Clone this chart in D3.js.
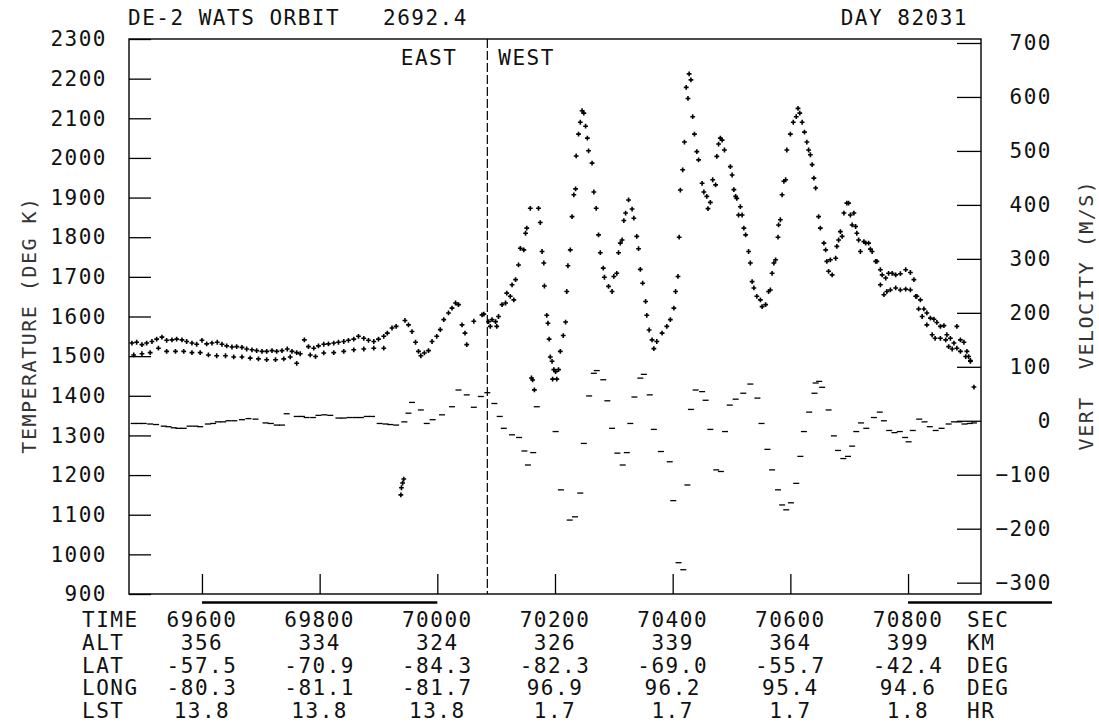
<!DOCTYPE html>
<html>
<head>
<meta charset="utf-8">
<script src="https://cdn.jsdelivr.net/npm/d3@7"></script>
<style>
body { margin: 0; background: #fff; }
svg text { font-family: "DejaVu Sans Mono", monospace; font-size: 21px; letter-spacing: 1.5px; fill: #111; }
</style>
</head>
<body>
<svg width="1099" height="727"></svg>
<script>
// temperature, main row (deg K)
var tempTime = [69481, 69489, 69498, 69506, 69515, 69523, 69532, 69540, 69549, 69557, 69566, 69574, 69583, 69591, 69600, 69608, 69617, 69626, 69634, 69642,
  69651, 69659, 69668, 69676, 69685, 69693, 69702, 69710, 69719, 69727, 69736, 69745, 69753, 69761, 69767, 69774, 69781, 69790, 69798, 69807,
  69815, 69824, 69832, 69841, 69849, 69858, 69866, 69875, 69883, 69892, 69900, 69909, 69915, 69923, 69930, 69945, 69951, 69957, 69963, 69968,
  69972, 69978, 69985, 69991, 69999, 70005, 70011, 70019, 70025, 70031, 70036, 70042, 70047, 70050, 70062, 70076, 70079, 70087, 70090, 70093,
  70099, 70101, 70104, 70110, 70116, 70118, 70124, 70127, 70130, 70133, 70138, 70141, 70147, 70150, 70152, 70158, 70160, 70162, 70165, 70172,
  70175, 70178, 70181, 70182, 70186, 70188, 70190, 70192, 70195, 70196, 70198, 70201, 70203, 70206, 70209, 70214, 70218, 70220, 70222, 70226,
  70229, 70232, 70235, 70236, 70240, 70243, 70246, 70249, 70252, 70255, 70257, 70263, 70266, 70270, 70274, 70277, 70282, 70284, 70291, 70297,
  70300, 70305, 70308, 70311, 70314, 70317, 70320, 70325, 70331, 70334, 70339, 70342, 70345, 70349, 70354, 70356, 70360, 70365, 70368, 70373,
  70382, 70390, 70396, 70402, 70405, 70409, 70411, 70413, 70417, 70420, 70423, 70426, 70428, 70431, 70434, 70437, 70441, 70444, 70450, 70453,
  70458, 70460, 70464, 70468, 70473, 70475, 70478, 70481, 70484, 70488, 70498, 70501, 70504, 70507, 70509, 70512, 70515, 70518, 70521, 70524,
  70529, 70532, 70535, 70538, 70543, 70549, 70552, 70558, 70563, 70566, 70569, 70572, 70575, 70579, 70580, 70583, 70586, 70589, 70592, 70594,
  70600, 70605, 70610, 70613, 70616, 70620, 70624, 70628, 70631, 70634, 70637, 70640, 70643, 70648, 70651, 70657, 70660, 70662, 70665, 70668,
  70671, 70677, 70679, 70682, 70685, 70688, 70691, 70696, 70699, 70702, 70705, 70708, 70711, 70713, 70716, 70719, 70725, 70728, 70733, 70736,
  70739, 70745, 70747, 70753, 70756, 70762, 70767, 70773, 70779, 70787, 70796, 70804, 70810, 70815, 70821, 70827, 70832, 70838, 70844, 70849,
  70855, 70861, 70866, 70872, 70878, 70883, 70889, 70895, 70900, 70903, 70906, 70912];
var tempK = [1533, 1535, 1529, 1533, 1537, 1543, 1548, 1540, 1541, 1543, 1541, 1537, 1533, 1530, 1540, 1531, 1533, 1535, 1530, 1526,
  1523, 1524, 1522, 1518, 1516, 1514, 1512, 1512, 1514, 1512, 1514, 1518, 1512, 1509, 1506, 1541, 1524, 1520, 1526, 1530,
  1531, 1533, 1535, 1537, 1540, 1543, 1550, 1545, 1540, 1537, 1543, 1550, 1558, 1571, 1575, 1590, 1579, 1562, 1535, 1512,
  1501, 1508, 1514, 1537, 1550, 1567, 1592, 1609, 1621, 1634, 1630, 1579, 1558, 1529, 1588, 1604, 1606, 1587, 1575, 1592,
  1587, 1575, 1600, 1630, 1634, 1659, 1651, 1680, 1642, 1693, 1730, 1772, 1768, 1810, 1823, 1873, 1445, 1440, 1415, 1873,
  1837, 1764, 1735, 1677, 1603, 1583, 1543, 1498, 1487, 1442, 1466, 1461, 1442, 1466, 1512, 1552, 1586, 1663, 1728, 1768,
  1852, 1907, 1922, 2005, 2060, 2090, 2119, 2113, 2080, 2050, 2018, 1987, 1914, 1873, 1806, 1761, 1722, 1699, 1676, 1663,
  1701, 1709, 1761, 1785, 1793, 1842, 1861, 1894, 1871, 1848, 1802, 1771, 1719, 1684, 1638, 1603, 1566, 1541, 1519, 1537,
  1558, 1575, 1592, 1621, 1663, 1701, 1800, 1919, 1970, 2040, 2178, 2150, 2212, 2197, 2104, 2060, 2016, 1995, 1936, 1914,
  1903, 1872, 1888, 1945, 1932, 2004, 2035, 2050, 2045, 2020, 1978, 1957, 1920, 1903, 1898, 1856, 1877, 1856, 1823, 1806,
  1764, 1735, 1688, 1672, 1651, 1642, 1625, 1630, 1663, 1667, 1709, 1735, 1743, 1800, 1831, 1844, 1907, 1941, 1945, 2020,
  2060, 2090, 2104, 2125, 2113, 2090, 2065, 2040, 2020, 2008, 1983, 1949, 1924, 1852, 1823, 1785, 1768, 1739, 1714, 1743,
  1705, 1747, 1777, 1793, 1814, 1802, 1861, 1886, 1886, 1856, 1831, 1861, 1827, 1810, 1793, 1764, 1789, 1785, 1785, 1770,
  1764, 1739, 1739, 1718, 1705, 1697, 1709, 1709, 1705, 1708, 1718, 1711, 1693, 1651, 1642, 1619, 1609, 1596, 1593, 1585,
  1575, 1577, 1554, 1545, 1533, 1575, 1541, 1535, 1512, 1499, 1489, 1422];

// temperature, second (lower) row
var temp2Time = [69484, 69498, 69512, 69526, 69540, 69555, 69569, 69583, 69597, 69611, 69625, 69640, 69654, 69668, 69682, 69696, 69710, 69725, 69739, 69750,
  69761, 69784, 69793, 69807, 69824, 69841, 69858, 69875, 69892, 69909, 69938, 69939, 69941, 69943,
  70753, 70759, 70764, 70770, 70779, 70787, 70796, 70804, 70813, 70818, 70824, 70832, 70841, 70846, 70855, 70864, 70869, 70875, 70883, 70889,
  70898, 70906];
var temp2K = [1503, 1506, 1509, 1520, 1512, 1512, 1512, 1509, 1509, 1503, 1501, 1501, 1498, 1498, 1495, 1493, 1491, 1491, 1493, 1498,
  1482, 1503, 1499, 1508, 1509, 1512, 1516, 1518, 1520, 1520, 1150, 1168, 1180, 1190,
  1680, 1655, 1663, 1667, 1672, 1667, 1669, 1667, 1651, 1619, 1600, 1579, 1554, 1545, 1545, 1541, 1524, 1518, 1520, 1512,
  1499, 1487];

// vertical velocity (m/s)
var velTime = [69484, 69492, 69501, 69512, 69522, 69535, 69543, 69552, 69560, 69569, 69579, 69589, 69597, 69610, 69619, 69627, 69636, 69645, 69655, 69668,
  69679, 69691, 69708, 69717, 69727, 69736, 69744, 69761, 69770, 69778, 69789, 69798, 69808, 69818, 69832, 69841, 69851, 69861, 69870, 69880,
  69889, 69902, 69912, 69920, 69930, 69944, 69951, 69957, 69972, 69982, 69992, 70008, 70025, 70036, 70050, 70062, 70074, 70085, 70097, 70106,
  70113, 70127, 70139, 70148, 70154, 70163, 70169, 70201, 70210, 70225, 70234, 70243, 70249, 70258, 70266, 70271, 70282, 70289, 70297, 70306,
  70315, 70322, 70328, 70335, 70345, 70351, 70361, 70368, 70380, 70395, 70401, 70410, 70418, 70425, 70431, 70439, 70450, 70456, 70464, 70474,
  70482, 70489, 70497, 70507, 70520, 70532, 70544, 70551, 70561, 70569, 70579, 70586, 70593, 70601, 70610, 70617, 70623, 70632, 70641, 70643,
  70649, 70654, 70665, 70674, 70681, 70690, 70698, 70705, 70712, 70720, 70729, 70742, 70752, 70759, 70768, 70777, 70786, 70795, 70801, 70808,
  70819, 70828, 70837, 70847, 70857, 70869, 70878, 70887, 70896, 70905, 70912];
var velMS = [-5, -5, -5, -6, -7, -10, -11, -13, -14, -14, -10, -10, -11, -6, -5, -2, -2, 0, 0, 2,
  4, 3, -4, -5, -8, -8, 13, 8, 8, 6, 6, 10, 11, 10, 5, 5, 6, 6, 6, 8,
  8, -5, -6, -7, -8, -2, 14, 34, 20, -5, 2, 11, 26, 57, 48, 25, 45, 52, 32, 8,
  -14, -26, -31, -56, -82, -59, 26, -20, -128, -184, -178, -134, -42, 46, 88, 93, 76, 37, -14, -60,
  -82, -59, -5, 44, 79, 86, 48, -16, -57, -76, -148, -263, -276, -119, 21, 57, 54, 38, -16, -91,
  -94, -20, 29, 40, 51, 68, 42, -5, -53, -91, -128, -156, -165, -152, -116, -66, -20, 16, 51, 70,
  73, 62, 20, -28, -55, -70, -66, -47, -20, -4, -14, 6, 16, 0, -18, -22, -20, -31, -39, -18,
  3, -2, -11, -18, -14, -6, -2, -2, -6, -5, -4];

var tempTicks = [900, 1000, 1100, 1200, 1300, 1400, 1500, 1600, 1700, 1800, 1900, 2000, 2100, 2200, 2300];
var velTicks = [-300, -200, -100, 0, 100, 200, 300, 400, 500, 600, 700];
var timeTicks = [69600, 69800, 70000, 70200, 70400, 70600, 70800];

// ephemeris table under the plot
var rowNames = ["TIME", "ALT", "LAT", "LONG", "LST"];
var rowUnits = ["SEC", "KM", "DEG", "DEG", "HR"];
var altLabels = ["356", "334", "324", "326", "339", "364", "399"];
var latLabels = ["-57.5", "-70.9", "-84.3", "-82.3", "-69.0", "-55.7", "-42.4"];
var longLabels = ["-80.3", "-81.1", "-81.7", "96.9", "96.2", "95.4", "94.6"];
var lstLabels = ["13.8", "13.8", "13.8", "1.7", "1.7", "1.7", "1.8"];

var svg = d3.select("svg"),
  margin = {top: 39, left: 129},
  width = 852,
  height = 555,
  g = svg.append("g").attr("transform", "translate(" + margin.left + "," + margin.top + ")");

var x = d3.scaleLinear().domain([69476, 70924]).range([0, width]);
var yT = d3.scaleLinear().domain([900, 2300]).range([height, 0]);
var yV = d3.scaleLinear().domain([-321, 707.4]).range([height, 0]);

// frame
g.append("rect")
  .attr("width", width)
  .attr("height", height)
  .attr("fill", "none")
  .attr("stroke", "#000")
  .attr("stroke-width", 1.4);

var left = g.append("g")
  .call(d3.axisLeft(yT).tickValues(tempTicks).tickSize(-22).tickPadding(22).tickFormat(d3.format("d")));
left.select(".domain").remove();
left.selectAll("line").attr("stroke-width", 1.3);

var right = g.append("g")
  .attr("transform", "translate(" + width + ",0)")
  .call(d3.axisRight(yV).tickValues(velTicks).tickSize(-24).tickFormat(d3.format("d")));
right.select(".domain").remove();
right.selectAll("line").attr("stroke-width", 1.3);
right.selectAll("text").attr("text-anchor", "end").attr("x", 71);

var bottom = g.append("g")
  .attr("transform", "translate(0," + height + ")")
  .call(d3.axisBottom(x).tickValues(timeTicks).tickSize(-20).tickFormat(""));
bottom.select(".domain").remove();
bottom.selectAll("line").attr("stroke-width", 1.3);

// east / west boundary
g.append("line")
  .attr("x1", x(70085)).attr("x2", x(70085))
  .attr("y1", 0).attr("y2", height)
  .attr("stroke", "#000")
  .attr("stroke-width", 1.2)
  .attr("stroke-dasharray", "9,3");
g.append("text").attr("x", x(70085) - 30).attr("y", 18.5).attr("dy", "0.36em").attr("text-anchor", "end").text("EAST");
g.append("text").attr("x", x(70085) + 11).attr("y", 18.5).attr("dy", "0.36em").text("WEST");

// data marks
g.selectAll(".temp")
  .data(d3.zip(tempTime, tempK).concat(d3.zip(temp2Time, temp2K)))
  .join("path")
  .attr("class", "temp")
  .attr("transform", function(d) { return "translate(" + x(d[0]) + "," + yT(d[1]) + ")"; })
  .attr("d", "M-2.4,0H2.4M0,-2.4V2.4")
  .attr("stroke", "#000")
  .attr("stroke-width", 1.6);

g.selectAll(".vel")
  .data(d3.zip(velTime, velMS))
  .join("path")
  .attr("class", "vel")
  .attr("transform", function(d) { return "translate(" + x(d[0]) + "," + yV(d[1]) + ")"; })
  .attr("d", "M-3,0H3")
  .attr("stroke", "#000")
  .attr("stroke-width", 1.3);

// heavy bars under the axis
g.append("line")
  .attr("x1", x(69600)).attr("x2", x(70000))
  .attr("y1", height + 8.5).attr("y2", height + 8.5)
  .attr("stroke", "#000").attr("stroke-width", 2.6);
g.append("line")
  .attr("x1", x(70800)).attr("x2", 1052 - margin.left)
  .attr("y1", height + 8.5).attr("y2", height + 8.5)
  .attr("stroke", "#000").attr("stroke-width", 2.6);

// titles
svg.append("text").attr("x", 128).attr("y", 17.5).attr("dy", "0.36em").text("DE-2 WATS ORBIT");
svg.append("text").attr("x", 383).attr("y", 17.5).attr("dy", "0.36em").text("2692.4");
svg.append("text").attr("x", 968).attr("y", 17.5).attr("dy", "0.36em").attr("text-anchor", "end").text("DAY 82031");

svg.append("text")
  .attr("transform", "translate(29,325) rotate(-90)")
  .attr("text-anchor", "middle")
  .attr("dy", "0.36em")
  .style("font-size", "20px")
  .style("fill", "#333")
  .text("TEMPERATURE (DEG K)");
svg.append("text")
  .attr("transform", "translate(1086,315) rotate(-90)")
  .attr("text-anchor", "middle")
  .attr("dy", "0.36em")
  .style("font-size", "20px")
  .style("fill", "#333")
  .style("white-space", "pre")
  .text("VERT  VELOCITY (M/S)");

// table rows
var rowValues = [timeTicks.map(String), altLabels, latLabels, longLabels, lstLabels];
var rowY = [619, 642, 665, 687, 710];
rowNames.forEach(function(name, i) {
  svg.append("text").attr("x", 82).attr("y", rowY[i]).attr("dy", "0.36em").text(name);
  svg.append("text").attr("x", 967).attr("y", rowY[i]).attr("dy", "0.36em").text(rowUnits[i]);
  rowValues[i].forEach(function(v, j) {
    svg.append("text")
      .attr("x", margin.left + x(timeTicks[j]))
      .attr("y", rowY[i])
      .attr("dy", "0.36em")
      .attr("text-anchor", "middle")
      .text(v);
  });
});
</script>
</body>
</html>
